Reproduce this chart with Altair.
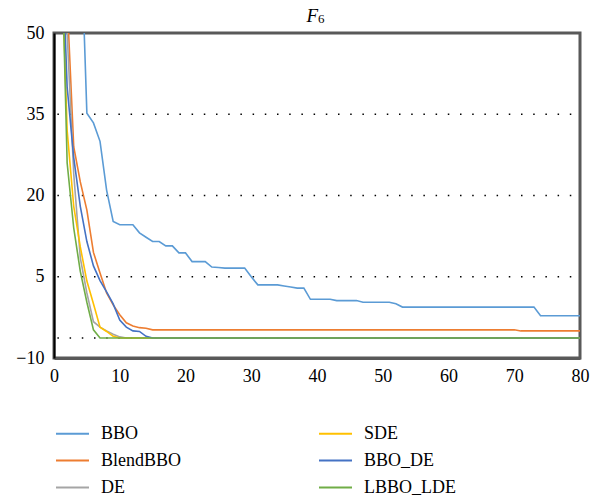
import altair as alt
import pandas as pd

# ---- data ----
series_names = ["BBO", "BlendBBO", "DE", "SDE", "BBO_DE", "LBBO_LDE"]
series_colors = ["#5B9BD5", "#ED7D31", "#A5A5A5", "#FFC000", "#4472C4", "#70AD47"]

BBO_x = [3, 4, 5, 6, 7, 8, 9, 10, 12, 13, 14, 15, 16, 17, 18, 19, 20, 21, 23, 24,
         25, 26, 29, 30, 31, 34, 35, 36, 37, 38, 39, 42, 43, 46, 47, 51, 52, 53, 73, 74, 80]
BBO_y = [120, 72, 35.2, 33.4, 30, 21, 15.2, 14.6, 14.6, 13.1, 12.3, 11.5, 11.5, 10.7, 10.7, 9.4, 9.4, 7.8, 7.8, 6.8,
         6.7, 6.6, 6.6, 5.0, 3.5, 3.5, 3.3, 3.1, 2.9, 2.9, 0.84, 0.84, 0.6, 0.6, 0.3, 0.3, 0.0, -0.6, -0.6, -2.2, -2.2]

BlendBBO_x = [1, 2, 3, 4, 5, 6, 7, 8, 9, 10, 11, 12, 13, 14, 15, 70, 71, 80]
BlendBBO_y = [85, 56, 29, 22.5, 17.3, 9.5, 5.7, 2, -0.2, -2, -3.5, -4.1, -4.4, -4.5, -4.8, -4.8, -5.0, -5.0]

DE_x = [1, 2, 3, 4, 5, 6, 7, 8, 9, 10, 11, 80]
DE_y = [110, 50, 24, 8.5, 2, -3.3, -4.3, -5, -5.6, -6.1, -6.3, -6.3]

SDE_x = [1, 2, 3, 4, 5, 6, 7, 8, 9, 10, 80]
SDE_y = [70, 32, 18, 10.5, 4.2, 0, -4.3, -5.1, -6.0, -6.3, -6.3]

BBO_DE_x = [1, 2, 3, 4, 5, 6, 7, 8, 9, 10, 11, 12, 13, 14, 15, 80]
BBO_DE_y = [73, 40, 27, 18, 11.5, 7, 4.3, 2.2, 0, -3, -4.3, -5, -5.1, -6, -6.3, -6.3]

LBBO_LDE_x = [1, 2, 3, 4, 5, 6, 7, 80]
LBBO_LDE_y = [74, 26, 14, 6, 0.3, -4.8, -6.3, -6.3]

x_ticks = [0, 10, 20, 30, 40, 50, 60, 70, 80]
y_ticks = [-10, 5, 20, 35, 50]
grid_levels = [35, 20, 5, -6.3]

xs_all = [BBO_x, BlendBBO_x, DE_x, SDE_x, BBO_DE_x, LBBO_LDE_x]
ys_all = [BBO_y, BlendBBO_y, DE_y, SDE_y, BBO_DE_y, LBBO_LDE_y]

rows = []
for k, (name, xs, ys) in enumerate(zip(series_names, xs_all, ys_all)):
    for xv, yv in zip(xs, ys):
        rows.append({"series": name, "x": xv, "y": yv, "k": k})
df = pd.DataFrame(rows)

FONT = "Liberation Serif"

y_axis = alt.Axis(values=y_ticks, title=None, grid=False, ticks=False,
                  labelFont=FONT, labelFontSize=18, labelColor="black",
                  labelPadding=10, domainColor="black", domainWidth=2,
                  labelFlush=False)
y_scale = alt.Scale(domain=[-10, 50], nice=False, zero=False)

x_enc = alt.X("x:Q", scale=alt.Scale(domain=[0, 80], nice=False, zero=False),
              axis=alt.Axis(values=x_ticks, title=None, grid=False, ticks=False,
                            labelFont=FONT, labelFontSize=18, labelColor="black",
                            labelPadding=9, domainColor="#595959", domainWidth=3,
                            labelFlush=False))

grid = alt.Chart(pd.DataFrame({"y": grid_levels})).mark_rule(
    color="black", strokeWidth=1.5, strokeDash=[1.5, 10.7], strokeDashOffset=3.5
).encode(y=alt.Y("y:Q", scale=y_scale, axis=y_axis))

lines = alt.Chart(df).mark_line(strokeWidth=1.6, clip=True).encode(
    x=x_enc,
    y=alt.Y("y:Q", scale=y_scale, axis=y_axis),
    color=alt.Color("series:N",
                    scale=alt.Scale(domain=series_names, range=series_colors),
                    legend=alt.Legend(title=None, orient="none", legendX=1, legendY=383,
                                      columns=2, symbolType="stroke", symbolSize=1089,
                                      symbolStrokeWidth=2, labelOffset=11, columnPadding=133,
                                      rowPadding=-6, labelFont=FONT, labelFontSize=18,
                                      labelColor="black")),
    order=alt.Order("x:Q"),
)

title_f = alt.Chart(pd.DataFrame({"t": ["F"]})).mark_text(
    font=FONT, fontSize=19, fontStyle="italic", align="left", baseline="alphabetic", color="black"
).encode(text="t:N", x=alt.value(252.5), y=alt.value(-11.5))
title_sub = alt.Chart(pd.DataFrame({"t": ["6"]})).mark_text(
    font=FONT, fontSize=13, align="left", baseline="alphabetic", color="black"
).encode(text="t:N", x=alt.value(264), y=alt.value(-10))

chart = alt.layer(grid, lines, title_f, title_sub).properties(
    width=526, height=325,
    background="white",
    autosize=alt.AutoSizeParams(type="none"),
    padding={"left": 54, "top": 33, "right": 15, "bottom": 137},
).configure_view(
    stroke="#595959", strokeWidth=3
)

chart.save("out.html", embed_options={"renderer": "svg", "actions": False})
